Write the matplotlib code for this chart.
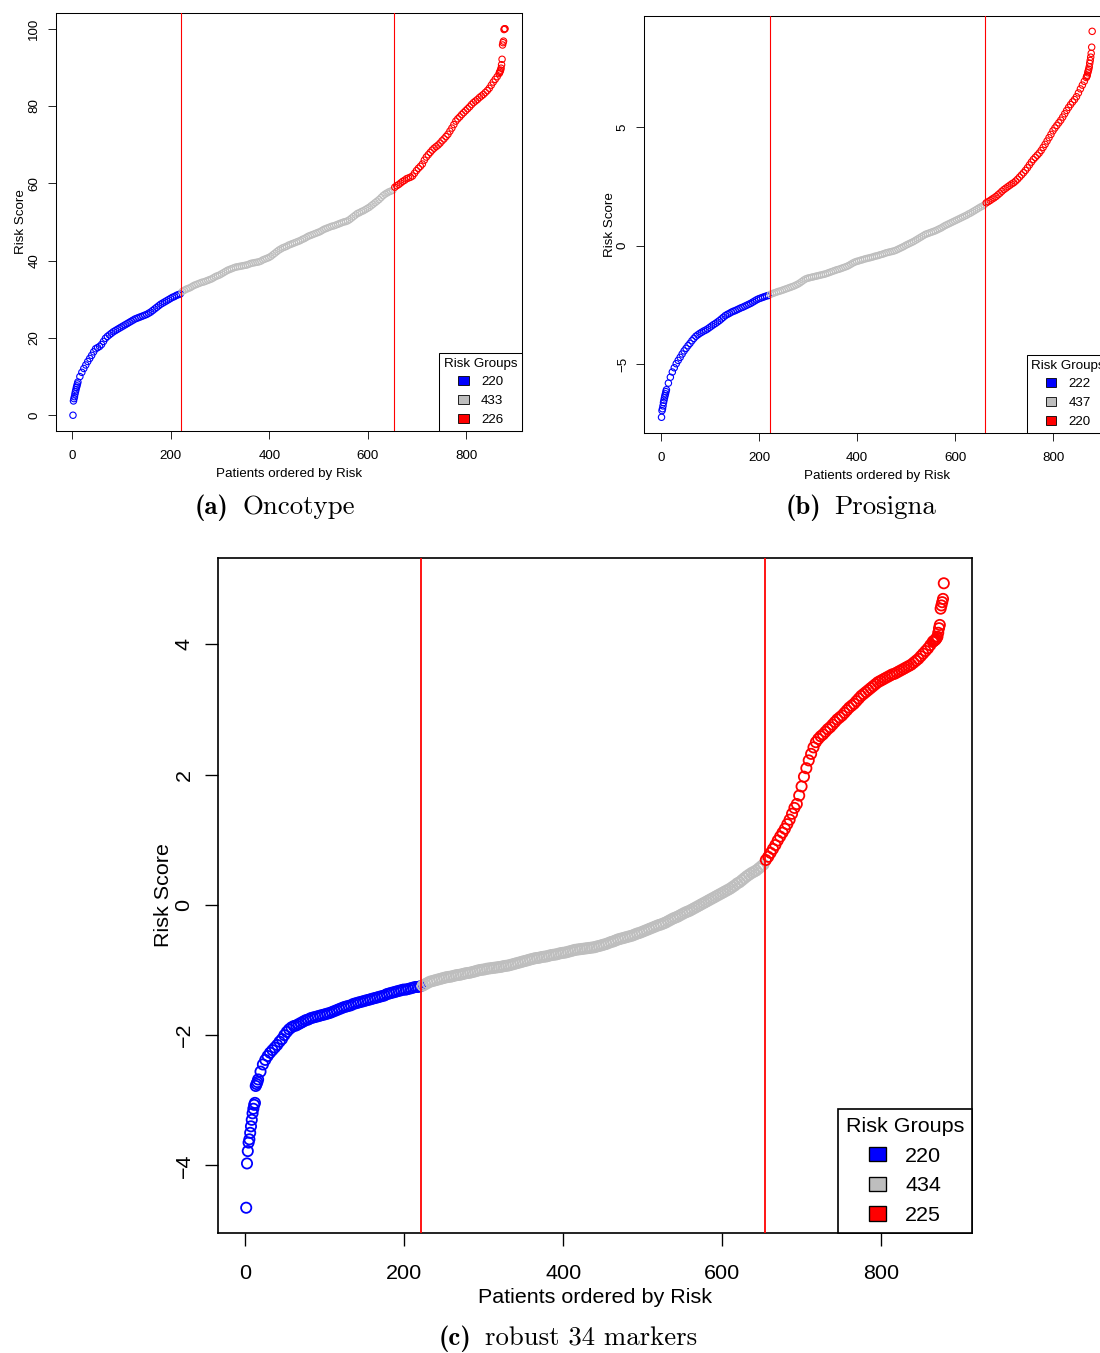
import numpy as np
import matplotlib
matplotlib.use('Agg')
import matplotlib.pyplot as plt
from matplotlib.patches import Patch

plt.rcParams['font.family'] = ['Liberation Sans', 'DejaVu Sans']

W, H = 1100, 1353

# group sizes shown in the legends (low / intermediate / high)
onco_groups = [220, 433, 226]
pros_groups = [222, 437, 220]
robust_groups = [220, 434, 225]
group_colors = ['#0000FF', '#BEBEBE', '#FF0000']
group_title = 'Risk Groups'

# Risk scores.  For every panel: the first patients one by
# one (head), then every <step>-th patient (body), then the last ones (tail).

# ---- (a) Oncotype
onco_step = 4
onco_head = [0.0, 3.7, 4.3, 4.8, 5.5, 6.1, 6.6, 7.2, 7.6, 8.1]
onco_body = [
    8.6, 10.0, 11.1, 12.1, 13.0, 13.9, 14.7, 15.5, 16.4, 17.2,
    17.5, 17.8, 18.3, 19.1, 19.9, 20.4, 20.8, 21.2, 21.6, 21.9,
    22.2, 22.5, 22.8, 23.1, 23.4, 23.7, 24.0, 24.3, 24.6, 24.9,
    25.1, 25.3, 25.5, 25.7, 25.9, 26.1, 26.4, 26.7, 27.1, 27.5,
    27.9, 28.3, 28.7, 29.0, 29.3, 29.6, 29.9, 30.2, 30.5, 30.7,
    31.0, 31.2, 31.4,
    32.0, 32.3, 32.6, 32.8, 33.0, 33.3, 33.6, 33.8, 34.0, 34.2,
    34.4, 34.5, 34.7, 34.9, 35.1, 35.3, 35.6, 35.9, 36.1, 36.3,
    36.6, 36.9, 37.2, 37.5, 37.7, 37.9, 38.1, 38.3, 38.4, 38.5,
    38.6, 38.7, 38.8, 38.9, 39.1, 39.3, 39.4, 39.5, 39.6, 39.7,
    39.9, 40.2, 40.4, 40.6, 40.8, 41.1, 41.5, 41.9, 42.3, 42.7,
    43.0, 43.3, 43.5, 43.7, 44.0, 44.2, 44.4, 44.6, 44.8, 45.0,
    45.2, 45.5, 45.7, 46.0, 46.3, 46.5, 46.7, 46.9, 47.1, 47.3,
    47.5, 47.8, 48.1, 48.3, 48.5, 48.7, 48.9, 49.0, 49.2, 49.4,
    49.6, 49.8, 50.0, 50.1, 50.3, 50.6, 51.0, 51.4, 51.8, 52.2,
    52.4, 52.7, 52.9, 53.2, 53.5, 53.8, 54.2, 54.6, 55.0, 55.4,
    55.8, 56.3, 56.8, 57.2, 57.5, 57.8, 58.0, 58.2,
    59.0, 59.4, 59.7, 60.1, 60.5, 60.8, 61.2, 61.4, 61.6, 61.9,
    62.6, 63.3, 63.9, 64.4, 65.0, 66.0, 66.8, 67.4, 68.0, 68.6,
    69.1, 69.5, 69.9, 70.4, 71.0, 71.5, 72.1, 72.7, 73.5, 74.3,
    75.2, 76.1, 76.7, 77.2, 77.8, 78.3, 78.8, 79.3, 79.8, 80.4,
    80.9, 81.3, 81.7, 82.2, 82.6, 83.0, 83.5, 84.0, 84.6, 85.4,
    86.2, 86.9, 87.6, 88.4,
]
onco_tail = [88.7, 89.0, 89.3, 89.8, 90.7, 92.1, 95.8, 96.4, 96.8, 99.8, 100.0, 100.0]

# ---- (b) Prosigna
pros_step = 4
pros_head = [-7.24, -6.96, -6.88, -6.76, -6.62, -6.52, -6.42, -6.33, -6.25, -6.16]
pros_body = [
    -6.08, -5.80, -5.55, -5.33, -5.15, -4.98, -4.84, -4.71, -4.57, -4.44,
    -4.33, -4.22, -4.12, -4.01, -3.91, -3.82, -3.76, -3.70, -3.65, -3.60,
    -3.56, -3.51, -3.45, -3.39, -3.33, -3.28, -3.22, -3.16, -3.09, -3.02,
    -2.95, -2.90, -2.86, -2.81, -2.77, -2.74, -2.70, -2.66, -2.62, -2.59,
    -2.55, -2.51, -2.47, -2.43, -2.38, -2.33, -2.28, -2.24, -2.21, -2.18,
    -2.15, -2.12, -2.10,
    -2.05, -2.02, -1.99, -1.96, -1.93, -1.91, -1.88, -1.85, -1.82, -1.79,
    -1.76, -1.73, -1.70, -1.66, -1.62, -1.57, -1.51, -1.45, -1.40, -1.37,
    -1.35, -1.33, -1.31, -1.29, -1.27, -1.25, -1.23, -1.21, -1.19, -1.16,
    -1.13, -1.10, -1.07, -1.04, -1.01, -0.99, -0.96, -0.93, -0.90, -0.87,
    -0.83, -0.78, -0.73, -0.69, -0.66, -0.64, -0.61, -0.59, -0.56, -0.54,
    -0.52, -0.50, -0.48, -0.45, -0.43, -0.41, -0.38, -0.36, -0.33, -0.30,
    -0.28, -0.26, -0.24, -0.22, -0.19, -0.15, -0.11, -0.07, -0.03, 0.02,
    0.06, 0.10, 0.14, 0.18, 0.23, 0.28, 0.33, 0.38, 0.43, 0.48,
    0.51, 0.54, 0.57, 0.60, 0.63, 0.67, 0.71, 0.75, 0.80, 0.85,
    0.89, 0.93, 0.97, 1.01, 1.05, 1.09, 1.13, 1.17, 1.21, 1.25,
    1.29, 1.34, 1.38, 1.43, 1.48, 1.53, 1.58, 1.63, 1.67, 1.72,
    1.81, 1.86, 1.91, 1.97, 2.02, 2.08, 2.15, 2.22, 2.30, 2.37,
    2.43, 2.49, 2.55, 2.61, 2.66, 2.73, 2.81, 2.90, 2.99, 3.08,
    3.18, 3.29, 3.41, 3.53, 3.64, 3.73, 3.82, 3.91, 4.02, 4.15,
    4.28, 4.42, 4.56, 4.70, 4.85, 4.97, 5.08, 5.19, 5.30, 5.43,
    5.57, 5.71, 5.84, 5.96, 6.07, 6.17, 6.29, 6.45, 6.62, 6.78,
    6.94, 7.10,
]
pros_tail = [7.15, 7.20, 7.30, 7.38, 7.45, 7.55, 7.70, 7.82, 7.96, 8.12, 8.38, 9.05]

# ---- (c) robust 34 markers
robust_step = 3
robust_head = [-4.65, -3.97, -3.78, -3.65, -3.60, -3.50, -3.40, -3.30, -3.20, -3.13,
               -3.07, -3.04, -2.78, -2.75, -2.72]
robust_body = [
    -2.68, -2.56, -2.45, -2.38, -2.32, -2.27, -2.23, -2.19, -2.15, -2.10,
    -2.06, -2.00, -1.95, -1.91, -1.88, -1.86, -1.85, -1.83, -1.81, -1.79,
    -1.77, -1.76, -1.74, -1.73, -1.72, -1.71, -1.70, -1.69, -1.68, -1.67,
    -1.66, -1.645, -1.63, -1.615, -1.60, -1.585, -1.57, -1.56, -1.55, -1.54,
    -1.52, -1.51, -1.50, -1.49, -1.48, -1.47, -1.46, -1.45, -1.44, -1.43,
    -1.42, -1.41, -1.40, -1.39, -1.37, -1.36, -1.35, -1.34, -1.33, -1.32,
    -1.31, -1.30, -1.30, -1.29, -1.28, -1.27, -1.26, -1.26, -1.25,
    -1.24, -1.22, -1.20, -1.18, -1.17, -1.16, -1.15, -1.14, -1.13, -1.12,
    -1.11, -1.105, -1.10, -1.09, -1.08, -1.075, -1.07, -1.06, -1.05, -1.045,
    -1.04, -1.03, -1.02, -1.01, -1.00, -0.995, -0.99, -0.98, -0.975, -0.97,
    -0.965, -0.96, -0.955, -0.95, -0.94, -0.935, -0.93, -0.92, -0.91, -0.90,
    -0.89, -0.88, -0.87, -0.86, -0.85, -0.84, -0.83, -0.82, -0.815, -0.81,
    -0.80, -0.795, -0.79, -0.78, -0.77, -0.765, -0.76, -0.75, -0.74, -0.735,
    -0.73, -0.72, -0.71, -0.70, -0.69, -0.685, -0.68, -0.675, -0.67, -0.665,
    -0.66, -0.655, -0.65, -0.64, -0.63, -0.62, -0.61, -0.60, -0.585, -0.57,
    -0.56, -0.545, -0.53, -0.52, -0.51, -0.50, -0.49, -0.48, -0.47, -0.455,
    -0.44, -0.43, -0.415, -0.40, -0.385, -0.37, -0.355, -0.34, -0.325, -0.31,
    -0.30, -0.285, -0.27, -0.25, -0.23, -0.21, -0.195, -0.18, -0.16, -0.14,
    -0.12, -0.105, -0.09, -0.07, -0.05, -0.03, -0.01, 0.01, 0.03, 0.05,
    0.07, 0.09, 0.11, 0.13, 0.15, 0.17, 0.19, 0.21, 0.23, 0.25,
    0.275, 0.30, 0.33, 0.35, 0.38, 0.41, 0.44, 0.465, 0.49, 0.51,
    0.53, 0.56, 0.59, 0.62,
    0.69, 0.74, 0.80, 0.86, 0.92, 0.99, 1.05, 1.11, 1.17, 1.24,
    1.31, 1.40, 1.49, 1.55, 1.68, 1.82, 1.97, 2.10, 2.22, 2.32,
    2.42, 2.50, 2.55, 2.59, 2.62, 2.66, 2.70, 2.73, 2.77, 2.81,
    2.85, 2.88, 2.91, 2.95, 2.99, 3.03, 3.06, 3.09, 3.13, 3.17,
    3.21, 3.24, 3.27, 3.30, 3.33, 3.36, 3.39, 3.42, 3.44, 3.46,
    3.48, 3.50, 3.52, 3.54, 3.55, 3.57, 3.59, 3.61, 3.63, 3.65,
    3.67, 3.69, 3.72, 3.75, 3.78, 3.82, 3.86, 3.90, 3.94, 3.99, 4.04,
]
robust_tail = [4.05, 4.06, 4.07, 4.08, 4.10, 4.12, 4.18, 4.25, 4.30, 4.55,
               4.60, 4.65, 4.70, 4.94]


def patient_ranks(head, body, tail, step, n):
    first = np.arange(1, len(head) + 1)
    middle = len(head) + 1 + step * np.arange(len(body))
    last = np.arange(n - len(tail) + 1, n + 1)
    return np.concatenate([first, middle, last])


def risk_plot(ax, head, body, tail, step, groups, yticks, k, xlabelpad):
    n = sum(groups)
    ranks = patient_ranks(head, body, tail, step, n)
    scores = np.array(head + body + tail)
    c1, c2 = groups[0], groups[0] + groups[1]
    cols = [group_colors[0] if r <= c1 else group_colors[1] if r <= c2 else group_colors[2]
            for r in ranks]
    ax.scatter(ranks, scores, s=21 * k * k, facecolors='none', edgecolors=cols,
               linewidths=0.8 * k, zorder=2)
    for v in (c1 + 0.5, c2 + 0.5):
        ax.axvline(v, color='#FF0000', lw=0.8 * k, zorder=3)

    # R style axis ranges: data range plus 4% each side
    dx = 0.04 * (n - 1)
    ax.set_xlim(1 - dx, n + dx)
    lo, hi = scores.min(), scores.max()
    dy = 0.04 * (hi - lo)
    ax.set_ylim(lo - dy, hi + dy)

    fs = 9.6 * k
    ax.set_xticks([0, 200, 400, 600, 800])
    ax.set_yticks(yticks)
    ax.tick_params(direction='out', length=5.8 * k, width=0.6 * k, labelsize=fs)
    ax.tick_params(axis='x', pad=8.0 * k)
    ax.tick_params(axis='y', pad=5.3 * k, labelrotation=90)
    for lab in ax.get_yticklabels():
        lab.set_va('center')
    ax.set_xlabel('Patients ordered by Risk', fontsize=fs, labelpad=xlabelpad)
    ax.set_ylabel('Risk Score', fontsize=fs, labelpad=0.8 * k)
    for sp in ax.spines.values():
        sp.set_linewidth(0.75 * k)

    handles = [Patch(facecolor=c, edgecolor='black', linewidth=0.6 * k, label=str(g))
               for c, g in zip(group_colors, groups)]
    leg = ax.legend(handles=handles, title=group_title, loc='lower right',
                    borderaxespad=0, fontsize=fs, title_fontsize=fs,
                    handlelength=0.8, handleheight=0.65, handletextpad=0.9,
                    labelspacing=0.5, borderpad=0.35, fancybox=False,
                    edgecolor='black', framealpha=1)
    leg.get_frame().set_linewidth(0.75 * k)


def box(left, top, right, bottom):
    return [left / W, 1 - bottom / H, (right - left) / W, (bottom - top) / H]


def caption(x_split, gap, base, tag, name, size=19.3):
    fig.text(x_split / W, 1 - base / H, tag, ha='right', va='baseline',
             family='cmb10', size=size)
    fig.text((x_split + gap) / W, 1 - base / H, name, ha='left', va='baseline',
             family='cmr10', size=size)


fig = plt.figure(figsize=(W / 100, H / 100), dpi=100)

ax_a = fig.add_axes(box(55.7, 13.3, 522.3, 430.7))
risk_plot(ax_a, onco_head, onco_body, onco_tail, onco_step, onco_groups,
          [0, 20, 40, 60, 80, 100], 1.0, 4.6)

ax_b = fig.add_axes(box(644.3, 15.9, 1109.4, 432.7))
risk_plot(ax_b, pros_head, pros_body, pros_tail, pros_step, pros_groups,
          [-5, 0, 5], 1.0, 4.6)

ax_c = fig.add_axes(box(218.3, 558.3, 971.7, 1232.7))
risk_plot(ax_c, robust_head, robust_body, robust_tail, robust_step, robust_groups,
          [-4, -2, 0, 2, 4], 1.61, 3.6)

caption(228.7, 13.6, 514, '(a)', 'Oncotype')
caption(821.7, 12.6, 514, '(b)', 'Prosigna')
caption(471.7, 13.3, 1345, '(c)', 'robust 34 markers')

fig.savefig('out.png', dpi=100)
